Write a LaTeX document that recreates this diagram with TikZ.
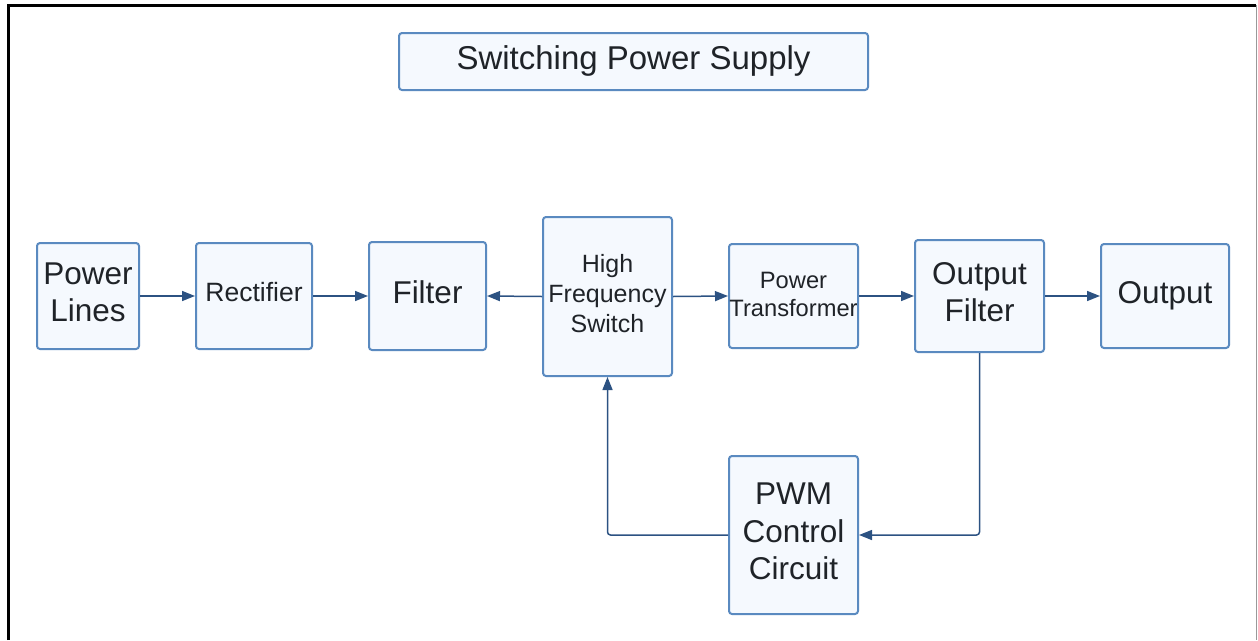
\documentclass[tikz,border=0pt]{standalone}
\usepackage{fontspec}
\setmainfont{Liberation Sans}
\usetikzlibrary{arrows.meta}
\definecolor{boxfill}{HTML}{F5F9FE}
\definecolor{boxdraw}{HTML}{5A8AC0}
\definecolor{arrowcol}{HTML}{2C5282}
\definecolor{txt}{HTML}{1F2328}
\tikzset{
  blk/.style={draw=boxdraw, fill=boxfill, line width=2pt, rounded corners=3pt,
    inner sep=0pt},
  lbl/.style={align=center, text=txt, inner sep=0pt},
  big/.style={font=\fontsize{31.5}{37.5}\selectfont},
  mid/.style={font=\fontsize{25}{30}\selectfont},
  sml/.style={font=\fontsize{23.7}{28}\selectfont},
  conn/.style={draw=arrowcol, line width=1.5pt, -{Triangle[length=13pt,width=10pt]}},
}
\begin{document}
\begin{tikzpicture}[x=1pt,y=-1pt]
\useasboundingbox (0,0) rectangle (1258,640);
\draw[black, line width=3pt] (8.5,640) -- (8.5,5) -- (1256,5);
\draw[gray!80, line width=1.5pt] (1256.5,5) -- (1256.5,640);

\node[blk, minimum width=469pt, minimum height=57pt] (title) at (633.5,61.5) {};
\node[lbl, font=\fontsize{33}{39}\selectfont] (title-t) at ([yshift=1pt]title.center) {Switching Power Supply};

\node[blk, minimum width=102pt, minimum height=106pt] (pl) at (88,296) {};
\node[lbl, big] (pl-t) at ([yshift=3.5pt]pl.center) {Power\\Lines};

\node[blk, minimum width=116pt, minimum height=106pt] (rect) at (254,296) {};
\node[lbl, font=\fontsize{26.5}{31}\selectfont] (rect-t) at ([yshift=4pt]rect.center) {Rectifier};

\node[blk, minimum width=117pt, minimum height=108pt] (filt) at (427.5,296) {};
\node[lbl, big] (filt-t) at ([yshift=4pt]filt.center) {Filter};

\node[blk, minimum width=129pt, minimum height=159pt] (hfs) at (607.5,296.5) {};
\node[lbl, mid] (hfs-t) at ([yshift=3pt]hfs.center) {High\\Frequency\\Switch};

\node[blk, minimum width=129pt, minimum height=104pt] (pt) at (793.5,296) {};
\node[lbl, sml] (pt-t) at ([yshift=2pt]pt.center) {Power\\Transformer};

\node[blk, minimum width=129pt, minimum height=112pt] (of) at (979.5,296) {};
\node[lbl, big] (of-t) at ([yshift=4pt]of.center) {Output\\Filter};

\node[blk, minimum width=128pt, minimum height=104pt] (out) at (1165,296) {};
\node[lbl, big] (out-t) at (out.center) {Output};

\node[blk, minimum width=129pt, minimum height=158pt] (pwm) at (793.5,535) {};
\node[lbl, big] (pwm-t) at ([yshift=3.5pt]pwm.center) {PWM\\Control\\Circuit};

\draw[conn] (pl.east) -- (rect.west);
\draw[conn] (rect.east) -- (filt.west);
\draw[conn] (hfs.west) -- (filt.east);
\draw[conn] (hfs.east) -- (pt.west);
\draw[conn] (pt.east) -- (of.west);
\draw[conn] (of.east) -- (out.west);
\draw[conn, rounded corners=3pt] (of.south) |- (pwm.east);
\draw[conn, rounded corners=3pt] (pwm.west) -| (hfs.south);
\end{tikzpicture}
\end{document}
